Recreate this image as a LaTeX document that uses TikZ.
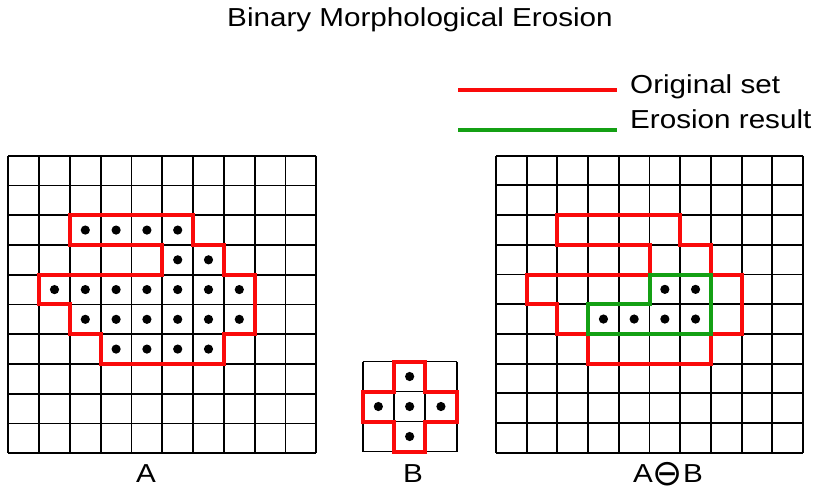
\documentclass[tikz,border=0pt]{standalone}
\usepackage{fontspec}
\setmainfont{Liberation Sans}[FakeStretch=1.14]
\newfontfamily\opsym{DejaVu Sans}
\usepackage{tikz}
\usetikzlibrary{calc,positioning}

\definecolor{setred}{RGB}{250,10,10}
\definecolor{erogreen}{RGB}{20,160,20}

\tikzset{
  gridline/.style={line width=1.9pt,black},
  setline/.style={line width=4pt,setred},
  eroline/.style={line width=4pt,erogreen},
  label/.style={font=\fontsize{26}{30}\selectfont,inner sep=0pt},
}

\begin{document}
\begin{tikzpicture}[x=1pt,y=-1pt]
  \useasboundingbox (0,0) rectangle (819,491);

  % title and legend
  \node[label,anchor=base] (title) at (420,26) {Binary Morphological Erosion};
  \coordinate (redstart) at (458,90);
  \coordinate (redend) at (617,90);
  \coordinate (greenstart) at (458,130);
  \coordinate (greenend) at (617,130);
  \draw[setline] (redstart) -- (redend);
  \draw[eroline] (greenstart) -- (greenend);
  \node[label,anchor=base west] (origtext) at (630,93) {Original set};
  \node[label,anchor=base west] (erotext) at (630,128) {Erosion result};

  % set A
  \begin{scope}[shift={(8.3,155.7)},x=30.8pt,y=-29.75pt]
    \foreach \i in {0,...,10} {
      \draw[gridline] (\i,0) -- (\i,10);
      \draw[gridline] (0,\i) -- (10,\i);
    }
    \draw[setline] (2,2) -- (6,2) -- (6,3) -- (7,3) -- (7,4) -- (8,4) -- (8,6)
      -- (7,6) -- (7,7) -- (3,7) -- (3,6) -- (2,6) -- (2,5) -- (1,5) -- (1,4)
      -- (5,4) -- (5,3) -- (2,3) -- cycle;
    \foreach \c/\r in {2/2,3/2,4/2,5/2, 5/3,6/3,
                       1/4,2/4,3/4,4/4,5/4,6/4,7/4,
                       2/5,3/5,4/5,5/5,6/5,7/5, 3/6,4/6,5/6,6/6}
      \fill (\c+0.5,\r+0.5) circle (4.6pt);
  \end{scope}
  \node[label,anchor=base] (labA) at (146,482) {A};

  % structuring element B
  \begin{scope}[shift={(362.7,361.5)},x=31.3pt,y=-30pt]
    \foreach \i in {0,...,3} {
      \draw[gridline] (\i,0) -- (\i,3);
      \draw[gridline] (0,\i) -- (3,\i);
    }
    \draw[setline] (1,0) -- (2,0) -- (2,1) -- (3,1) -- (3,2) -- (2,2) -- (2,3)
      -- (1,3) -- (1,2) -- (0,2) -- (0,1) -- (1,1) -- cycle;
    \foreach \c/\r in {1/0,0/1,1/1,2/1,1/2}
      \fill (\c+0.5,\r+0.5) circle (4.6pt);
  \end{scope}
  \node[label,anchor=base] (labB) at (413,482) {B};

  % erosion result
  \begin{scope}[shift={(496,155.7)},x=30.7pt,y=-29.7pt]
    \foreach \i in {0,...,10} {
      \draw[gridline] (\i,0) -- (\i,10);
      \draw[gridline] (0,\i) -- (10,\i);
    }
    \draw[setline] (2,2) -- (6,2) -- (6,3) -- (7,3) -- (7,4) -- (8,4) -- (8,6)
      -- (7,6) -- (7,7) -- (3,7) -- (3,6) -- (2,6) -- (2,5) -- (1,5) -- (1,4)
      -- (5,4) -- (5,3) -- (2,3) -- cycle;
    \draw[eroline] (5,4) -- (7,4) -- (7,6) -- (3,6) -- (3,5) -- (5,5) -- cycle;
    \foreach \c/\r in {5/4,6/4, 3/5,4/5,5/5,6/5}
      \fill (\c+0.5,\r+0.5) circle (4.6pt);
  \end{scope}
  \node[label,anchor=base] (labAB) at (668,482)
    {A\raisebox{-3pt}{\opsym\fontsize{36}{36}\selectfont ⊖}B};
\end{tikzpicture}
\end{document}
